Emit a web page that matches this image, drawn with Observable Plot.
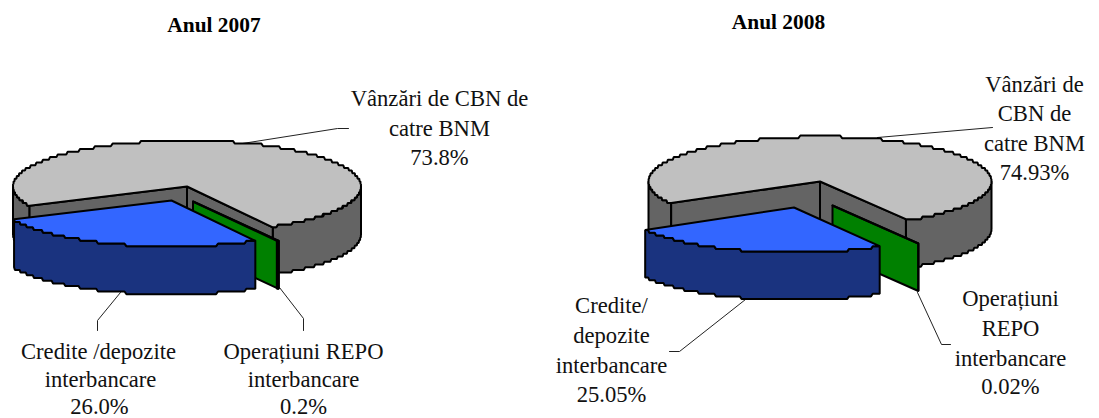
<!DOCTYPE html>
<html><head><meta charset="utf-8">
<script src="https://cdn.jsdelivr.net/npm/d3@7"></script>
<script src="https://cdn.jsdelivr.net/npm/@observablehq/plot@0.6"></script>
<style>html,body{margin:0;padding:0;background:#fff}svg{display:block}</style>
</head><body><div id="chart"></div>
<script>
// Data
const categories = ["Vânzări de CBN de catre BNM", "Operațiuni REPO interbancare", "Credite /depozite interbancare"];
const shares2007 = [73.8, 0.2, 26.0];
const shares2008 = [74.93, 0.02, 25.05];
const titles = ["Anul 2007", "Anul 2008"];

// Label lines: text, centre x, baseline y
const labelLines = [
  [titles[0],213.5,31,"t"],[titles[1],778,28,"t"],
  ["Vânzări de CBN de",439,105],["catre BNM",439,135],["73.8%",439,164],
  ["Credite /depozite",98,358],["interbancare",100,386],["26.0%",99,413],
  ["Operațiuni REPO",303,358],["interbancare",303,386],["0.2%",303,413],
  ["Vânzări de",1034,91],["CBN de",1034,120],["catre BNM",1034,150],["74.93%",1034,179],
  ["Credite/",611,312],["depozite",611,342],["interbancare",611,372],["25.05%",611,401],
  ["Operațiuni",1010,305],["REPO",1010,335],["interbancare",1010,365],["0.02%",1010,393]
].map(([text,x,y,kind])=>({text,x,y,kind}));

// Leader lines
const leaders = [
  [[242,143],[337,128],[348,128]],[[120,292],[97,320],[97,330]],[[279,287],[303,318],[303,330]],
  [[877,137],[992,127]],[[745,299],[679,351],[669,351]],[[917,292],[941,344],[950,344]]
];

// Pie layouts
const pies = [
  {shares:shares2007,cx:186.5,cy:186,rx:174,ry:46,depth:48,start:154.8,sw:2,
   off:{1:[6,15],2:[-15.5,14]}},
  {shares:shares2008,cx:819.5,cy:181,rx:171.5,ry:45,depth:47.5,start:150.2,sw:2,
   off:{1:[12.5,24],2:[-26,26]}}
];
const Q = 2.7;
const fillTop=["#C0C0C0","#008000","#3366FF"], fillSide=["#646464","#008000","#1A337F"];

function parts(p){
  const polys=[]; let a=p.start;
  const ang=p.shares.map(s=>{const r=[a,a+s*3.6];a+=s*3.6;return r;});
  const geom=(i)=>{
    const [ox,oy]=p.off[i]||[0,0];
    const cx=p.cx+ox, cy=p.cy+oy;
    const pt=(t,d=0)=>{const r=t*Math.PI/180;
      const y=cy+p.ry*Math.sin(r);
      return {x:cx+p.rx*Math.cos(r),y:Math.round(y/Q)*Q+d};};
    const arc=(t0,t1,d=0)=>{const n=Math.max(2,Math.ceil(Math.abs(t1-t0)*1.5)),o=[];
      for(let k=0;k<=n;k++)o.push(pt(t0+(t1-t0)*k/n,d));return o;};
    const apex=(d=0)=>({x:cx,y:cy+d});
    return {pt,arc,apex};
  };
  const add=(points,fill)=>polys.push({points:[...points,points[0]],fill});
  // grey slice: visible outer wall, cut walls, top
  {
    const [t0,t1]=ang[0]; const g=geom(0);
    const wall=(u,v)=>add([...g.arc(u,v),...g.arc(v,u,p.depth)],fillSide[0]);
    wall(t0,180); wall(360,t1);
    add([g.apex(),g.pt(t0),g.pt(t0,p.depth),g.apex(p.depth)],fillSide[0]);
    add([g.apex(),g.pt(t1-360),g.pt(t1-360,p.depth),g.apex(p.depth)],fillSide[0]);
    add([g.apex(),...g.arc(t0,t1)],fillTop[0]);
  }
  // thin slice
  {
    const [t0,t1]=ang[1].map(t=>t-360); const g=geom(1);
    add([g.apex(),g.pt(t0),g.pt(t0,p.depth),g.apex(p.depth)],fillSide[1]);
    add([...g.arc(t0,t1),...g.arc(t1,t0,p.depth)],fillSide[1]);
    add([g.apex(),...g.arc(t0,t1)],fillTop[1]);
  }
  // exploded slice
  {
    const [t0,t1]=ang[2].map(t=>t-360); const g=geom(2);
    add([...g.arc(t0,t1),...g.arc(t1,t0,p.depth)],fillSide[2]);
    add([g.apex(),...g.arc(t0,t1)],fillTop[2]);
  }
  return polys.map(q=>({...q,sw:p.sw}));
}

const polys=pies.flatMap(parts);
const font="'Liberation Serif','Times New Roman',serif";
const chart=Plot.plot({
  width:1099,height:418,margin:0,
  style:{background:"#fff",fontFamily:font},
  x:{domain:[0,1099],range:[0,1099],axis:null},
  y:{domain:[0,418],range:[0,418],axis:null},
  marks:[
    ...leaders.map(l=>Plot.line(l,{x:d=>d[0],y:d=>d[1],stroke:"#222",strokeWidth:1})),
    ...polys.map(q=>Plot.line(q.points,{x:"x",y:"y",fill:q.fill,stroke:"#000",strokeWidth:q.sw,strokeLinejoin:"miter"})),
    Plot.text(labelLines.filter(d=>!d.kind),{x:"x",y:"y",text:"text",lineAnchor:"bottom",textAnchor:"middle",fontSize:22.6,fill:"#111",fontFamily:font}),
    Plot.text(labelLines.filter(d=>d.kind),{x:"x",y:"y",text:"text",lineAnchor:"bottom",textAnchor:"middle",fontSize:21.4,fontWeight:"bold",fill:"#000",fontFamily:font})
  ]
});
document.getElementById("chart").append(chart);
</script></body></html>
